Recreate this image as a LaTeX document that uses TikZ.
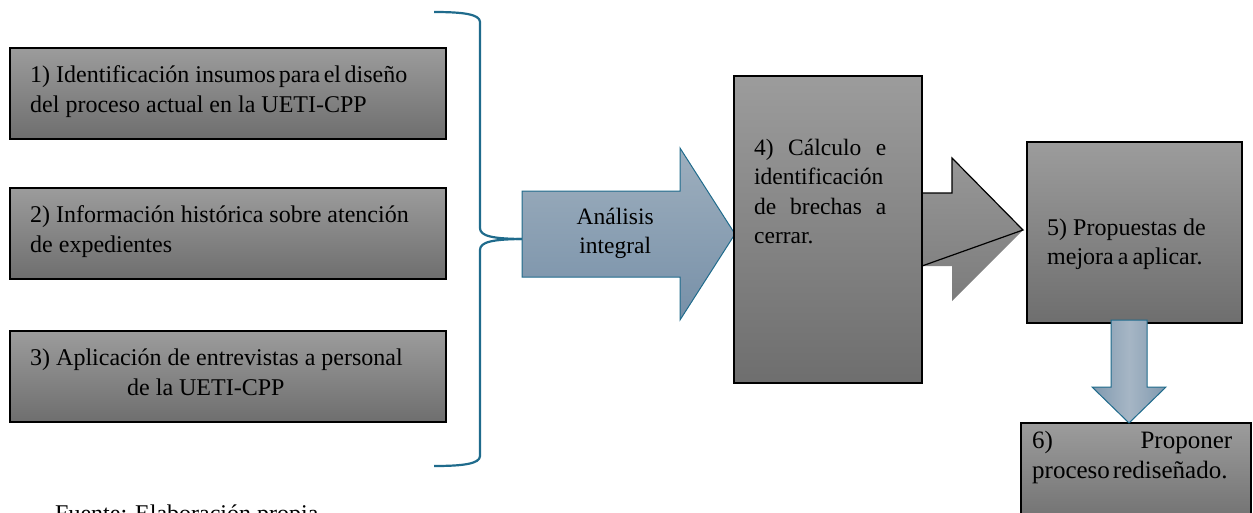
\documentclass[tikz,border=0pt]{standalone}
\usepackage{fontspec}
\setmainfont{Liberation Serif}
\definecolor{boxtop}{HTML}{9C9C9C}
\definecolor{boxbot}{HTML}{6E6E6E}
\definecolor{bracecol}{HTML}{1F6B8C}
\definecolor{bluetop}{HTML}{9EAFBE}
\definecolor{bluebot}{HTML}{7790A8}
\definecolor{blueside}{HTML}{8099AF}
\definecolor{bluemid}{HTML}{A6B6C5}
\definecolor{greytop}{HTML}{979797}
\definecolor{greybot}{HTML}{7C7C7C}
\newcommand\boxfont{\fontsize{24}{30}\selectfont}
\newcommand\midfont{\fontsize{23.5}{29.5}\selectfont}
\newcommand\rightfont{\fontsize{24}{29}\selectfont}
\newcommand\lastfont{\fontsize{25}{30}\selectfont}
\begin{document}
\begin{tikzpicture}[x=1pt,y=-1pt,
  stepbox/.style={draw=black, line width=1.2pt, top color=boxtop, bottom color=boxbot},
  bluearrow/.style={draw=bracecol, line width=1pt, top color=bluetop, bottom color=bluebot},
  downarrow/.style={draw=bracecol, line width=1pt, left color=blueside, right color=blueside, middle color=bluemid},
  greyarrow/.style={top color=greytop, bottom color=greybot},
  outline/.style={draw=black, line width=1.2pt, line join=miter},
  bracestyle/.style={draw=bracecol, line width=2.2pt},
  txt/.style={anchor=base west, inner sep=0pt, text=black}]
\useasboundingbox (0,0) rectangle (1253,512);

% input boxes 1-3
\path[stepbox] (10,48) rectangle (446,139);
\path[stepbox] (10,188) rectangle (446,279);
\path[stepbox] (10,331) rectangle (446,422);
\node[txt, font=\boxfont] (t1) at (30,82) {\parbox[t]{420pt}{1) Identificación insumos\hspace{3.5pt}para\hspace{3.5pt}el\hspace{3.5pt}diseño\\del proceso actual en la UETI-CPP}};
\node[txt, font=\boxfont] (t2) at (30,222) {\parbox[t]{420pt}{2) Información histórica sobre atención\\de expedientes}};
\node[txt, font=\boxfont] (t3) at (30,365) {\parbox[t]{420pt}{3) Aplicación de entrevistas a personal\\\hspace*{97pt}de la UETI-CPP}};

% curly brace gathering the three inputs
\coordinate (brace-top) at (434,12);
\coordinate (brace-bot) at (434,466);
\coordinate (brace-tip) at (526,239);
\draw[bracestyle] (brace-top) .. controls (462,12) and (480,14) .. (480,22) -- (480,228) .. controls (480,236) and (492,239) .. (brace-tip);
\draw[bracestyle] (brace-tip) .. controls (492,239) and (480,242) .. (480,250) -- (480,456) .. controls (480,464) and (462,466) .. (brace-bot);

% analysis arrow
\path[bluearrow] (522,191) -- (680,191) -- (680,148) -- (735,234) -- (680,320) -- (680,277) -- (522,277) -- cycle;
\node[txt, font=\midfont] (ana) at (555,224) {\parbox[t]{120pt}{\centering Análisis\\integral}};

% grey arrow leaving box 4
\path[greyarrow] (915,193) -- (952,193) -- (952,158) -- (1023,230) -- (952,301) -- (952,266) -- (915,266) -- cycle;
\draw[outline] (922,193) -- (952,193) -- (952,158) -- (1023,230) -- (922,266);

% box 4
\path[stepbox] (734,76) rectangle (922,383);
\node[txt, font=\midfont] (t4) at (754,155) {\parbox[t]{132pt}{%
  \makebox[132pt][s]{4) Cálculo e}\par
  \makebox[132pt][s]{identificación}\par
  \makebox[132pt][s]{de brechas a}\par
  cerrar.}};

% box 5
\path[stepbox] (1027,142) rectangle (1242,323);
\node[txt, font=\rightfont] (t5) at (1047,235) {\parbox[t]{190pt}{5) Propuestas de\\mejora\hspace{4pt}a\hspace{4pt}aplicar.}};

% box 6
\path[stepbox] (1021,423) rectangle (1251,530);
\node[txt, font=\lastfont] (t6) at (1032,448) {\parbox[t]{200pt}{%
  \makebox[200pt][s]{6) Proponer}\par
  proceso\hspace{3pt}rediseñado.}};

% arrow from box 5 down to box 6
\path[downarrow] (1111,320) -- (1147,320) -- (1147,387) -- (1166,387) -- (1129,423) -- (1092,387) -- (1111,387) -- cycle;

% source line
\node[txt, font=\boxfont] (src) at (55,521) {Fuente: Elaboración propia};
\end{tikzpicture}
\end{document}
